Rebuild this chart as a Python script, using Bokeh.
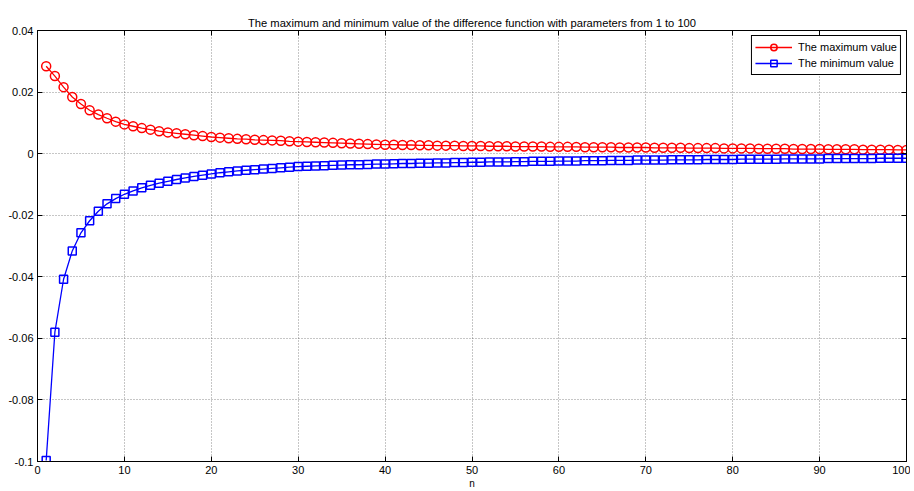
from bokeh.plotting import figure
from bokeh.models import (ColumnDataSource, FixedTicker, CustomJSTickFormatter, LinearAxis,
                          Legend, LegendItem, Range1d)
from bokeh.embed import file_html
from bokeh.resources import INLINE

title_text = "The maximum and minimum value of the difference function with parameters from 1 to 100"
x_label = "n"
series_names = ["The maximum value", "The minimum value"]

n_values = list(range(1, 101))

max_values = [
    0.0284, 0.0252, 0.0216, 0.0184, 0.0161, 0.0141, 0.0127, 0.0115, 0.0104, 0.0095,
    0.0089, 0.0083, 0.0078, 0.0073, 0.0069, 0.0066, 0.0063, 0.0060, 0.0057, 0.0054,
    0.0052, 0.0050, 0.0048, 0.0047, 0.0045, 0.0044, 0.0043, 0.0042, 0.0040, 0.0039,
    0.0038, 0.0037, 0.0036, 0.0035, 0.0034, 0.0033, 0.0032, 0.0031, 0.0030, 0.0029,
    0.0029, 0.0028, 0.0028, 0.0027, 0.0027, 0.0026, 0.0026, 0.0026, 0.0025, 0.0025,
    0.0025, 0.0024, 0.0024, 0.0024, 0.0023, 0.0023, 0.0023, 0.0023, 0.0022, 0.0022,
    0.0022, 0.0022, 0.0021, 0.0021, 0.0021, 0.0021, 0.0020, 0.0020, 0.0020, 0.0020,
    0.0019, 0.0019, 0.0019, 0.0019, 0.0018, 0.0018, 0.0018, 0.0018, 0.0017, 0.0017,
    0.0017, 0.0017, 0.0016, 0.0016, 0.0016, 0.0016, 0.0015, 0.0015, 0.0015, 0.0015,
    0.0014, 0.0014, 0.0014, 0.0014, 0.0013, 0.0013, 0.0013, 0.0013, 0.0012, 0.0012,
]

min_values = [
    -0.0997, -0.0580, -0.0408, -0.0316, -0.0257, -0.0218, -0.0187, -0.0163, -0.0146, -0.0132,
    -0.0121, -0.0111, -0.0103, -0.0096, -0.0090, -0.0084, -0.0079, -0.0074, -0.0070, -0.0066,
    -0.0062, -0.0059, -0.0056, -0.0054, -0.0052, -0.0050, -0.0048, -0.0046, -0.0044, -0.0042,
    -0.0041, -0.0040, -0.0039, -0.0038, -0.0037, -0.0036, -0.0036, -0.0035, -0.0034, -0.0034,
    -0.0033, -0.0032, -0.0032, -0.0031, -0.0031, -0.0030, -0.0030, -0.0029, -0.0029, -0.0028,
    -0.0028, -0.0027, -0.0027, -0.0027, -0.0026, -0.0026, -0.0025, -0.0025, -0.0025, -0.0024,
    -0.0024, -0.0024, -0.0023, -0.0023, -0.0023, -0.0022, -0.0022, -0.0022, -0.0021, -0.0021,
    -0.0021, -0.0021, -0.0020, -0.0020, -0.0020, -0.0020, -0.0019, -0.0019, -0.0019, -0.0019,
    -0.0018, -0.0018, -0.0018, -0.0018, -0.0018, -0.0017, -0.0017, -0.0017, -0.0017, -0.0017,
    -0.0016, -0.0016, -0.0016, -0.0016, -0.0016, -0.0016, -0.0015, -0.0015, -0.0015, -0.0015,
]

x_ticks = [0, 10, 20, 30, 40, 50, 60, 70, 80, 90, 100]
y_ticks = [-0.1, -0.08, -0.06, -0.04, -0.02, 0, 0.02, 0.04]

FONT = "Liberation Sans"

src = ColumnDataSource(dict(n=n_values, vmax=max_values, vmin=min_values))

p = figure(width=910, height=491, output_backend="svg", toolbar_location=None,
           x_range=Range1d(0, 100), y_range=Range1d(-0.1, 0.04),
           min_border_left=37, min_border_right=4, min_border_top=30, min_border_bottom=30)

p.title.text = title_text
p.title.align = "center"
p.title.text_font = FONT
p.title.text_font_size = "11.2px"
p.title.text_font_style = "normal"
p.title.text_color = "#000000"
p.title.standoff = 4
p.title.offset = 0

p.outline_line_color = "#000000"
p.outline_line_width = 1
p.outline_line_alpha = 1

fmt = CustomJSTickFormatter(code="""
    var s = tick.toFixed(2);
    if (s.indexOf('.') >= 0) { s = s.replace(/0+$/, '').replace(/\\.$/, ''); }
    if (s == '-0') s = '0';
    return s;
""")

for ax in p.xaxis:
    ax.ticker = FixedTicker(ticks=x_ticks)
    ax.axis_label = x_label
    ax.axis_label_text_font = FONT
    ax.axis_label_text_font_size = "10px"
    ax.axis_label_text_font_style = "normal"
    ax.axis_label_text_color = "#000000"
    ax.axis_label_standoff = 1
for ax in p.yaxis:
    ax.ticker = FixedTicker(ticks=y_ticks)
    ax.formatter = fmt

for ax in list(p.xaxis) + list(p.yaxis):
    ax.major_tick_in = 5
    ax.major_tick_out = 0
    ax.minor_tick_in = 0
    ax.minor_tick_out = 0
    ax.axis_line_color = "#000000"
    ax.major_tick_line_color = "#000000"
    ax.major_label_text_font = FONT
    ax.major_label_text_font_size = "11px"
    ax.major_label_text_color = "#000000"
    ax.major_label_standoff = 4

# extra axes top and right for the box ticks (no labels drawn)
top_ax = LinearAxis(ticker=FixedTicker(ticks=x_ticks), major_tick_in=5, major_tick_out=0,
                    minor_tick_in=0, minor_tick_out=0, major_label_text_font_size="0px",
                    major_label_text_color=None, major_label_standoff=0,
                    axis_line_color="#000000")
right_ax = LinearAxis(ticker=FixedTicker(ticks=y_ticks), major_tick_in=5, major_tick_out=0,
                      minor_tick_in=0, minor_tick_out=0, major_label_text_font_size="0px",
                      major_label_text_color=None, major_label_standoff=0,
                      axis_line_color="#000000")
p.add_layout(top_ax, "above")
p.add_layout(right_ax, "right")

p.xgrid.ticker = FixedTicker(ticks=x_ticks)
p.ygrid.ticker = FixedTicker(ticks=y_ticks)
for g in (p.xgrid, p.ygrid):
    g.grid_line_color = "#000000"
    g.grid_line_alpha = 0.45
    g.grid_line_dash = "1 2"
    g.grid_line_width = 1

RED = "#FF0000"
BLUE = "#0000FF"

l1 = p.line("n", "vmax", source=src, line_color=RED, line_width=1.3)
m1 = p.scatter("n", "vmax", source=src, marker="circle", size=9, line_color=RED,
               line_width=1.5, fill_color=None)
l2 = p.line("n", "vmin", source=src, line_color=BLUE, line_width=1.3)
m2 = p.scatter("n", "vmin", source=src, marker="square", size=8, line_color=BLUE,
               line_width=1.5, fill_color=None)

legend = Legend(items=[LegendItem(label=series_names[0], renderers=[l1, m1]),
                       LegendItem(label=series_names[1], renderers=[l2, m2])],
                location="top_right")
legend.label_text_font = FONT
legend.label_text_font_size = "11px"
legend.label_text_color = "#000000"
legend.border_line_color = "#000000"
legend.border_line_width = 1
legend.border_line_alpha = 1
legend.background_fill_alpha = 1
legend.margin = 5
legend.padding = 3
legend.spacing = 0
legend.label_height = 16
legend.glyph_height = 16
legend.glyph_width = 37
legend.label_standoff = 6
p.add_layout(legend)

open("out.html", "w").write(file_html(p, INLINE))
